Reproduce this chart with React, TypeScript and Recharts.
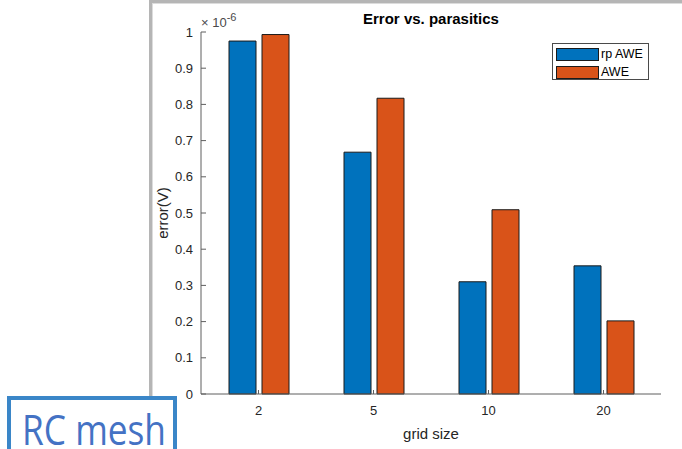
import React from 'react';
import { BarChart, Bar, XAxis, YAxis, Legend } from 'recharts';

const categories = ['2', '5', '10', '20'];
const rpAWE = [0.975, 0.668, 0.31, 0.354];
const AWE = [0.993, 0.817, 0.509, 0.202];
const seriesNames = ['rp AWE', 'AWE'];
const seriesColors = ['#0072BD', '#D95319'];
const yTicks = [0, 0.1, 0.2, 0.3, 0.4, 0.5, 0.6, 0.7, 0.8, 0.9, 1];
const yTickLabels = ['0', '0.1', '0.2', '0.3', '0.4', '0.5', '0.6', '0.7', '0.8', '0.9', '1'];
const exponentText = '-6';
const titleText = 'Error vs. parasitics';
const xLabelText = 'grid size';
const yLabelText = 'error(V)';
const boxText = 'RC mesh';

const data = categories.map((c, i) => ({ cat: c, rp: rpAWE[i], awe: AWE[i] }));

const FONT = "'Liberation Sans', Arial, sans-serif";
const AXIS = '#5f5f5f';
const TXT = '#262626';

const LegendBox = () => (
  <div
    style={{
      width: 97,
      height: 37,
      boxSizing: 'border-box',
      border: '1px solid #4a4a4a',
      background: '#fff',
      padding: '2px 0 0 3px',
      fontFamily: FONT,
      fontSize: 12.5,
      color: '#000',
    }}
  >
    {seriesNames.map((n, i) => (
      <div key={n} style={{ display: 'flex', alignItems: 'center', height: 16, marginBottom: i === 0 ? 2 : 0 }}>
        <div
          style={{
            width: 43,
            height: 13,
            boxSizing: 'border-box',
            background: seriesColors[i],
            border: '1px solid #1a1a1a',
            marginRight: 2,
          }}
        />
        <span style={{ lineHeight: '16px' }}>{n}</span>
      </div>
    ))}
  </div>
);

export default function App() {
  return (
    <div
      style={{
        position: 'absolute',
        left: 0,
        top: 0,
        width: 682,
        height: 449,
        overflow: 'hidden',
        background: '#fff',
        fontFamily: FONT,
      }}
    >
      {/* slide frame */}
      <div style={{ position: 'absolute', left: 149, top: 0, width: 533, height: 3, background: '#b5b5b5' }} />
      <div style={{ position: 'absolute', left: 149, top: 3, width: 533, height: 1, background: '#dcdcdc' }} />
      <div style={{ position: 'absolute', left: 149, top: 0, width: 3, height: 400, background: '#b5b5b5' }} />
      <div style={{ position: 'absolute', left: 152, top: 3, width: 1, height: 397, background: '#dcdcdc' }} />

      <div style={{ position: 'absolute', left: 0, top: 0 }}>
        <BarChart
          width={682}
          height={449}
          data={data}
          margin={{ top: 32, right: 21, bottom: 25, left: 151 }}
          barSize={27}
          barGap={6}
        >
          <XAxis
            dataKey="cat"
            height={30}
            axisLine={{ stroke: AXIS, strokeWidth: 1 }}
            tickLine={{ stroke: AXIS, strokeWidth: 1 }}
            tickSize={-4}
            tickMargin={16}
            tick={{ fontSize: 13, fill: TXT, fontFamily: FONT }}
          />
          <XAxis
            xAxisId="top"
            dataKey="cat"
            orientation="top"
            height={0}
            axisLine={{ stroke: AXIS, strokeWidth: 1 }}
            tickLine={{ stroke: AXIS, strokeWidth: 1 }}
            tickSize={-4}
            tick={false}
          />
          <YAxis
            width={50}
            domain={[0, 1]}
            ticks={yTicks}
            interval={0}
            tickFormatter={(v: number) => yTickLabels[yTicks.indexOf(v)] ?? String(v)}
            axisLine={{ stroke: AXIS, strokeWidth: 1 }}
            tickLine={{ stroke: AXIS, strokeWidth: 1 }}
            tickSize={-5}
            tickMargin={13}
            tick={{ fontSize: 13, fill: TXT, fontFamily: FONT }}
          />
          <YAxis
            yAxisId="right"
            orientation="right"
            width={0}
            domain={[0, 1]}
            ticks={yTicks}
            interval={0}
            axisLine={{ stroke: AXIS, strokeWidth: 1 }}
            tickLine={{ stroke: AXIS, strokeWidth: 1 }}
            tickSize={-5}
            tick={false}
          />
          <Legend
            layout="vertical"
            align="center"
            verticalAlign="middle"
            content={() => <LegendBox />}
            wrapperStyle={{ left: 552, top: 43, width: 97, height: 37 }}
          />
          <Bar dataKey="rp" name={seriesNames[0]} fill={seriesColors[0]} stroke="#1a1a1a" strokeWidth={1} isAnimationActive={false} />
          <Bar dataKey="awe" name={seriesNames[1]} fill={seriesColors[1]} stroke="#1a1a1a" strokeWidth={1} isAnimationActive={false} />
        </BarChart>
      </div>

      {/* RC mesh box */}
      <div
        style={{
          position: 'absolute',
          left: 7,
          top: 396,
          width: 170,
          height: 80,
          boxSizing: 'border-box',
          border: '4px solid #3a86c8',
          background: '#fff',
        }}
      />

      <svg
        width={682}
        height={449}
        style={{ position: 'absolute', left: 0, top: 0, pointerEvents: 'none' }}
      >
        <text x={431} y={23.5} textAnchor="middle" fontFamily={FONT} fontWeight="bold" fontSize={15} fill="#000">
          {titleText}
        </text>
        <text x={431} y={439} textAnchor="middle" fontFamily={FONT} fontSize={15} fill={TXT}>
          {xLabelText}
        </text>
        <text
          x={168}
          y={213}
          transform="rotate(-90 168 213)"
          textAnchor="middle"
          fontFamily={FONT}
          fontSize={15}
          fill={TXT}
        >
          {yLabelText}
        </text>
        <text x={201} y={27} fontFamily={FONT} fontSize={13} fill="#4a4a4a">
          <tspan>{'\u00d7 10'}</tspan>
          <tspan dy={-6} fontSize={11}>{exponentText}</tspan>
        </text>
        <text
          x={22}
          y={445}
          fontFamily="'Open Sans', 'Noto Sans', sans-serif"
          fontSize={42}
          fill="#4472c4"
          textLength={144}
          lengthAdjust="spacingAndGlyphs"
        >
          {boxText}
        </text>
      </svg>
    </div>
  );
}
